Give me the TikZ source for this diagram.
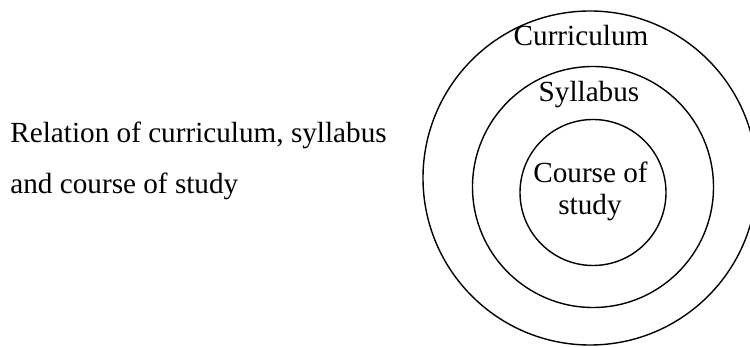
\documentclass[tikz,border=0pt]{standalone}
\usepackage{fontspec}
\setmainfont{Liberation Serif}
\begin{document}
\begin{tikzpicture}[x=0.5pt,y=-0.5pt,
  ring/.style={circle, draw, line width=0.7pt, inner sep=0pt},
  lbl/.style={font=\fontsize{14.6}{15}\selectfont, inner sep=0pt}]
\useasboundingbox (0,0) rectangle (750,347);
\node[ring, minimum size=167pt] (outer) at (590,178) {};
\node[ring, minimum size=120.5pt] (middle) at (593,187) {};
\node[ring, minimum size=73pt] (inner) at (593,192.5) {};
\node[lbl, anchor=base] (cur) at (581,46) {Curriculum};
\node[lbl, anchor=base] (syl) at (589,102) {Syllabus};
\node[lbl, anchor=base] (cos1) at (590.5,183) {Course of};
\node[lbl, anchor=base] (cos2) at (590,215) {study};
\node[lbl, anchor=base west] (rel1) at (10,143) {Relation of curriculum, syllabus};
\node[lbl, anchor=base west] (rel2) at (10,194) {and course of study};
\end{tikzpicture}
\end{document}
